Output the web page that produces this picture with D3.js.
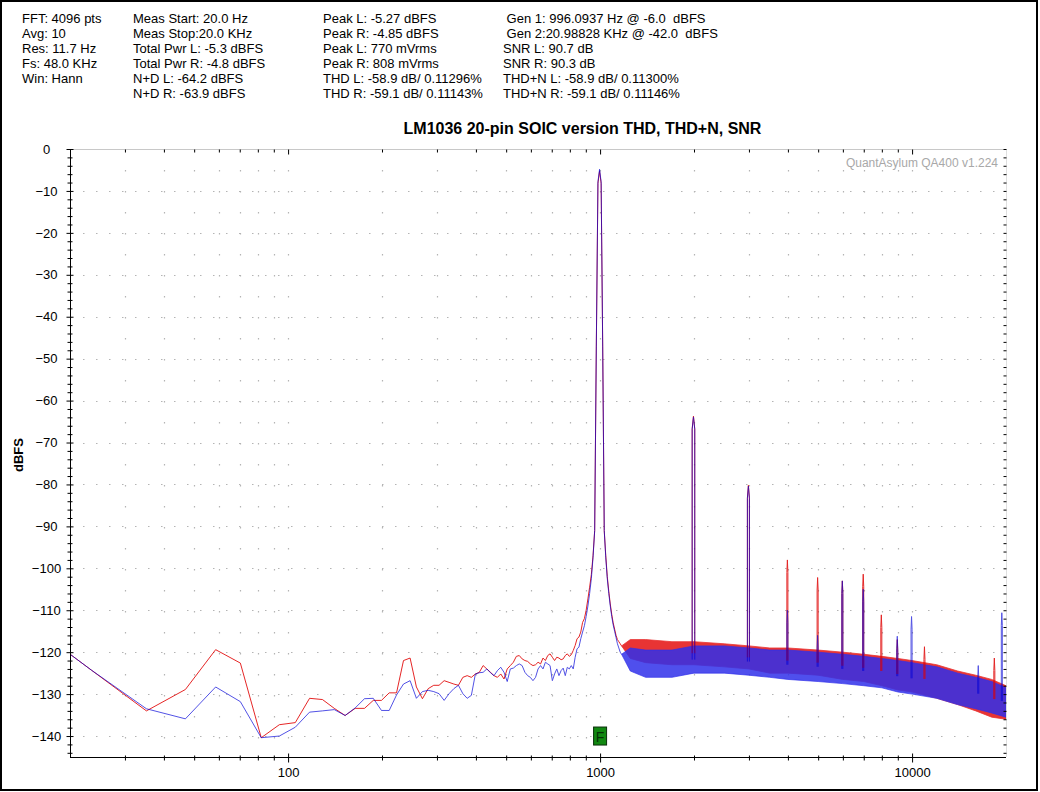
<!DOCTYPE html>
<html>
<head>
<meta charset="utf-8">
<title>LM1036 20-pin SOIC version THD, THD+N, SNR</title>
<script src="https://d3js.org/d3.v7.min.js"></script>
<style>
  body { margin: 0; background: #fff; }
  svg { display: block; font-family: Arial, "Liberation Sans", sans-serif; }
  .info text { font-size: 13px; fill: #000; white-space: pre; }
  .tick text { font-size: 13px; fill: #000; font-family: Arial, "Liberation Sans", sans-serif; }
</style>
</head>
<body>
<svg id="chart" width="1040" height="792"></svg>
<script>
// FFT settings (bin spacing = Fs / N)
const FS = 48000, FFT_N = 4096;
const BIN_HZ = FS / FFT_N;

// readout block at the top, one array per column
const infoCol1 = ["FFT: 4096 pts", "Avg: 10", "Res: 11.7 Hz", "Fs: 48.0 KHz", "Win: Hann"];
const infoCol2 = ["Meas Start: 20.0 Hz", "Meas Stop:20.0 KHz", "Total Pwr L: -5.3 dBFS", "Total Pwr R: -4.8 dBFS", "N+D L: -64.2 dBFS", "N+D R: -63.9 dBFS"];
const infoCol3 = ["Peak L: -5.27 dBFS", "Peak R: -4.85 dBFS", "Peak L: 770 mVrms", "Peak R: 808 mVrms", "THD L: -58.9 dB/ 0.11296%", "THD R: -59.1 dB/ 0.11143%"];
const infoCol4 = [" Gen 1: 996.0937 Hz @ -6.0  dBFS", " Gen 2:20.98828 KHz @ -42.0  dBFS", "SNR L: 90.7 dB", "SNR R: 90.3 dB", "THD+N L: -58.9 dB/ 0.11300%", "THD+N R: -59.1 dB/ 0.11146%"];

// axis ticks
const yTickLabels = [0, -10, -20, -30, -40, -50, -60, -70, -80, -90, -100, -110, -120, -130, -140];
const xMajorTicks = [100, 1000, 10000];
const xMinorTicks = [30, 40, 50, 60, 70, 80, 90, 200, 300, 400, 500, 600, 700, 800, 900,
                     2000, 3000, 4000, 5000, 6000, 7000, 8000, 9000];

// spectrum, bins 1..100 (dBFS), left channel (red)
const binsL = [
  -107.6, -124.3, -134.0, -128.9, -119.4, -122.6, -140.4, -137.3, -136.8, -131.0,
  -131.3, -133.4, -135.1, -133.4, -133.4, -131.5, -131.5, -129.7, -129.7, -122.0,
  -121.4, -128.3, -131.1, -128.7, -127.9, -127.9, -126.8, -127.2, -127.6, -127.9,
  -126.0, -125.6, -126.0, -125.2, -124.8, -123.2, -124.0, -124.8, -125.6, -126.0,
  -125.2, -126.4, -124.0, -123.2, -122.4, -121.0, -120.8, -121.6, -122.0, -122.2,
  -122.8, -123.2, -123.0, -122.4, -122.8, -121.4, -122.0, -120.8, -120.4, -121.2,
  -122.0, -121.2, -121.4, -121.8, -121.6, -120.8, -120.4, -121.0, -120.6, -119.6,
  -118.4, -116.8, -116.4, -115.2, -112.9, -112.0, -110.0, -107.3, -104.5, -101.5,
  -97.0, -91.0, -47.0, -8.2, -5.27, -8.2, -47.0, -91.0, -97.0, -102.0,
  -105.5, -108.5, -111.0, -113.0, -114.5, -116.0, -117.0, -117.5, -118.0, -118.5
];
// right channel (blue)
const binsR = [
  -107.6, -124.3, -133.5, -135.9, -128.3, -131.8, -140.4, -140.0, -137.9, -134.3,
  -134.0, -133.7, -135.1, -133.3, -131.1, -131.0, -133.9, -133.9, -130.2, -127.6,
  -126.8, -131.0, -129.4, -129.1, -129.4, -129.9, -131.5, -129.9, -128.7, -127.9,
  -129.9, -131.0, -130.3, -125.2, -124.9, -124.8, -124.0, -124.9, -125.6, -124.4,
  -123.6, -124.8, -127.0, -124.0, -123.8, -123.2, -122.8, -123.2, -124.8, -125.6,
  -126.0, -126.8, -126.0, -124.0, -123.2, -124.0, -122.4, -122.8, -123.2, -126.8,
  -125.2, -124.0, -125.6, -124.4, -123.8, -125.6, -123.6, -124.0, -123.2, -124.0,
  -121.2, -119.2, -118.8, -116.8, -115.2, -113.7, -111.5, -109.0, -106.0, -102.5,
  -97.5, -91.0, -47.0, -7.8, -4.85, -7.8, -47.0, -91.0, -97.5, -102.5,
  -106.0, -109.0, -111.5, -113.5, -115.0, -116.5, -118.0, -119.0, -120.0, -120.5
];

// noise floor from ~1.2 kHz up: upper / lower edge of the dense trace
const bandFreq = [1172, 1250, 1400, 1700, 2000, 2500, 3000, 3500, 4000, 5000, 6000, 7000, 8000, 9000, 10000, 12000, 14000, 16000, 18000, 20000];
const bandTopL = [-118.5, -117.0, -117.0, -117.5, -117.5, -118.0, -118.5, -119.0, -119.0, -119.5, -120.0, -120.5, -121.0, -121.5, -122.0, -123.0, -124.5, -125.5, -126.5, -128.0];
const bandBotL = [-118.5, -121.5, -122.5, -123.0, -123.0, -123.5, -124.0, -125.0, -125.0, -125.5, -126.5, -127.0, -128.0, -129.0, -129.5, -131.0, -132.5, -134.0, -135.5, -136.0];
const bandTopR = [-120.5, -119.0, -119.5, -119.5, -118.5, -118.5, -119.0, -119.5, -119.5, -120.0, -120.5, -121.0, -121.5, -122.0, -122.5, -123.5, -125.0, -126.0, -127.0, -128.5];
const bandBotR = [-120.5, -124.5, -126.0, -126.0, -125.0, -125.0, -125.5, -126.0, -126.5, -127.0, -127.5, -128.0, -128.5, -129.5, -130.0, -131.0, -132.5, -133.5, -134.5, -135.5];

// harmonic / spur peaks (null = not visible above the floor)
const harmFreq = [1992, 2988, 3984, 4980, 5977, 6973, 7969, 8965, 9961, 10957, 16300, 18350, 19390];
const harmL = [-63.7, -80.2, -98.0, -102.2, -103.0, -101.4, -111.1, -117.0, null, -118.7, null, -121.4, null];
const harmR = [-63.9, -80.4, -110.0, -116.0, -103.0, -105.0, null, -116.2, -111.5, null, -123.2, null, -110.6];

// "F" marker for the fundamental
const markerFreq = 1000, markerLevel = -140;

const RED = "#e00000", BLUE = "#0000d8";

const svg = d3.select("#chart");
const x = d3.scaleLog().domain([20, 20000]).range([70, 1006]);
const y = d3.scaleLinear().domain([-145, 0]).range([757, 149]);
const [x0, x1] = x.range();
const [y0, y1] = y.range();

// outer frame
svg.append("rect").attr("x", 1).attr("y", 1).attr("width", 1036).attr("height", 789)
  .attr("fill", "#fff").attr("stroke", "#000").attr("stroke-width", 2);

// readout
const info = svg.append("g").attr("class", "info");
[[infoCol1, 22], [infoCol2, 133], [infoCol3, 323], [infoCol4, 503]].forEach(([lines, cx]) => {
  info.selectAll(null).data(lines).join("text")
    .attr("x", cx).attr("y", (d, i) => 23 + i * 15)
    .text(d => d);
});

// title
svg.append("text").attr("x", 582.5).attr("y", 134).attr("text-anchor", "middle")
  .style("font-size", "16px").style("font-weight", "bold")
  .text("LM1036 20-pin SOIC version THD, THD+N, SNR");

// grid
const grid = svg.append("g").attr("stroke", "#b4b4b4").attr("stroke-width", 1.2);
grid.selectAll(null).data(yTickLabels.filter(v => v !== 0)).join("line")
  .attr("x1", x0).attr("x2", x1)
  .attr("y1", d => Math.round(y(d)) + 0.5).attr("y2", d => Math.round(y(d)) + 0.5)
  .attr("stroke-dasharray", "1.5,11.5");
grid.selectAll(null).data(xMinorTicks.concat(xMajorTicks)).join("line")
  .attr("x1", d => Math.round(x(d)) + 0.5).attr("x2", d => Math.round(x(d)) + 0.5)
  .attr("y1", y1).attr("y2", y0)
  .attr("stroke-dasharray", "1.5,19.5");

svg.append("text").attr("x", 998).attr("y", 167).attr("text-anchor", "end")
  .style("font-size", "12px").attr("fill", "#a8a8a8")
  .text("QuantAsylum QA400 v1.224");

// traces
svg.append("clipPath").attr("id", "plotClip")
  .append("rect").attr("x", x0).attr("y", y1).attr("width", x1 - x0).attr("height", y0 - y1);

const band = (top, bot) => d3.area()
  .x((d, i) => x(bandFreq[i]))
  .y0((d, i) => y(bot[i]))
  .y1((d, i) => y(top[i]))(bandFreq);

const line = d3.line().x((d, i) => x((i + 1) * BIN_HZ)).y(d => y(d));

function spikePath(f, peak, top, bot) {
  const base = y((top(f) + bot(f)) / 2);
  const w = peak > -70 ? 1.3 : peak > -90 ? 1 : 0.5;
  const px = x(f);
  return `M${px - w},${base}L${px - w},${y(peak - 3)}L${px},${y(peak)}L${px + w},${y(peak - 3)}L${px + w},${base}`;
}

const plot = svg.append("g").attr("clip-path", "url(#plotClip)");

// noise floor bands (right channel drawn over left, as in the analyser)
plot.append("path").attr("d", band(bandTopL, bandBotL))
  .attr("fill", "#e83434").attr("stroke", "#e83434").attr("stroke-width", 0.8);
plot.append("path").attr("d", band(bandTopR, bandBotR))
  .attr("fill", "#3030ea").attr("fill-opacity", 0.85)
  .attr("stroke", "#3030ea").attr("stroke-opacity", 0.85).attr("stroke-width", 0.8);

function drawChannel(g, vals, top, bot, harm, color) {
  const topS = d3.scaleLog().domain(bandFreq).range(top);
  const botS = d3.scaleLog().domain(bandFreq).range(bot);
  g.append("path").attr("d", line(vals)).attr("fill", "none").attr("stroke", color).attr("stroke-width", 1);
  g.selectAll(null).data(harmFreq.map((f, i) => [f, harm[i]]).filter(d => d[1] !== null)).join("path")
    .attr("d", d => spikePath(d[0], d[1], topS, botS))
    .attr("fill", "none").attr("stroke", color).attr("stroke-width", 1);
}

drawChannel(plot.append("g").attr("opacity", 0.85), binsL, bandTopL, bandBotL, harmL, RED);
drawChannel(plot.append("g").attr("opacity", 0.68), binsR, bandTopR, bandBotR, harmR, BLUE);

// frame lines (top/right light, left/bottom black)
svg.append("line").attr("x1", x0).attr("x2", x1).attr("y1", y1 + 0.5).attr("y2", y1 + 0.5).attr("stroke", "#c8c8c8");
svg.append("line").attr("x1", x1 + 0.5).attr("x2", x1 + 0.5).attr("y1", y1).attr("y2", y0).attr("stroke", "#e0e0e0");

// left axis
const yMinor = d3.range(-144, 1, 2).filter(v => v % 10 !== 0);
const gyMinor = svg.append("g").attr("transform", `translate(${x0 + 0.5},0)`)
  .call(d3.axisLeft(y).tickValues(yMinor).tickFormat("").tickSize(0));
gyMinor.selectAll(".tick line").attr("x1", -3).attr("x2", 2).attr("stroke", "#000");
gyMinor.select(".domain").remove();

const gy = svg.append("g").attr("transform", `translate(${x0 + 0.5},0)`)
  .call(d3.axisLeft(y).tickValues(yTickLabels).tickSize(0));
gy.select(".domain").attr("stroke", "#000").attr("d", `M0,${y1}V${y0}`);
gy.selectAll(".tick line").attr("x1", -4).attr("x2", 3).attr("stroke", "#000");
gy.selectAll(".tick text").attr("x", -24).attr("text-anchor", "middle");

// right side ticks
const gyR = svg.append("g").attr("transform", `translate(${x1 + 0.5},0)`)
  .call(d3.axisRight(y).tickValues(yMinor.concat(yTickLabels)).tickFormat("").tickSize(0));
gyR.select(".domain").remove();
gyR.selectAll(".tick line").attr("x1", -3).attr("x2", 0).attr("stroke", "#000");

// bottom axis
const gxMinor = svg.append("g").attr("transform", `translate(0,${y0 + 0.5})`)
  .call(d3.axisBottom(x).tickValues(xMinorTicks).tickFormat("").tickSize(0));
gxMinor.select(".domain").remove();
gxMinor.selectAll(".tick line").attr("y1", -2).attr("y2", 3).attr("stroke", "#000");

const gx = svg.append("g").attr("transform", `translate(0,${y0 + 0.5})`)
  .call(d3.axisBottom(x).tickValues(xMajorTicks).tickFormat(d3.format("d")).tickSize(0).tickPadding(10));
gx.select(".domain").attr("stroke", "#000").attr("d", `M${x0},0H${x1}`);
gx.selectAll(".tick line").attr("y1", -4).attr("y2", 5).attr("stroke", "#000");

// top ticks
const gxTop = svg.append("g").attr("transform", `translate(0,${y1 + 0.5})`)
  .call(d3.axisTop(x).tickValues(xMinorTicks.concat(xMajorTicks)).tickFormat("").tickSize(0));
gxTop.select(".domain").remove();
gxTop.selectAll(".tick line").attr("y1", d => xMajorTicks.includes(d) ? 5 : 3).attr("y2", 0).attr("stroke", "#000");

// y label
svg.append("text").attr("transform", "translate(23,455) rotate(-90)").attr("text-anchor", "middle")
  .style("font-size", "13px").style("font-weight", "bold").text("dBFS");

// F marker
const mk = svg.append("g").attr("transform", `translate(${x(markerFreq)},${y(markerLevel)})`);
mk.append("rect").attr("x", -6.5).attr("y", -9).attr("width", 13).attr("height", 18)
  .attr("fill", "#118811").attr("stroke", "#0a300a");
mk.append("text").attr("x", 0).attr("y", 6).attr("text-anchor", "middle")
  .style("font-size", "14px").attr("fill", "#063006").text("F");
</script>
</body>
</html>
